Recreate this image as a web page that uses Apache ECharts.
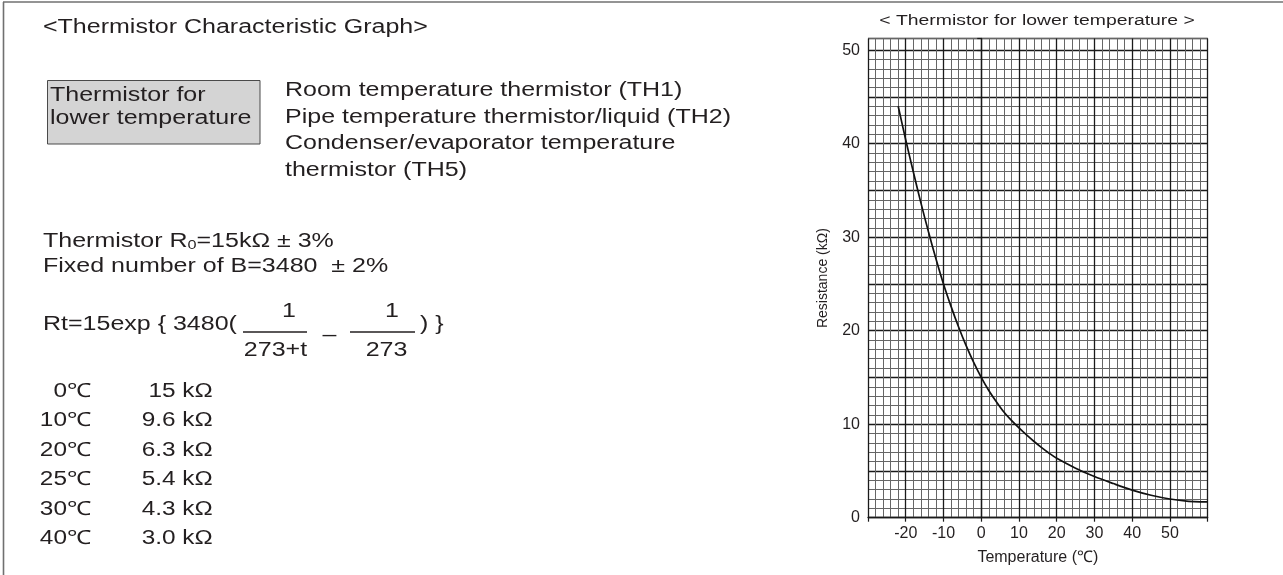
<!DOCTYPE html>
<html><head><meta charset="utf-8">
<script src="https://cdn.jsdelivr.net/npm/echarts@6/dist/echarts.min.js"></script>
<style>html,body{margin:0;padding:0;background:#fff}#c{width:1283px;height:575px}</style>
</head><body><div id="c"></div>
<script>
// ---- data ----
const temps = [-22,-20,-18,-16,-14,-12,-10,-8,-6,-4,-2,0,2,4,6,8,10,12,14,16,18,20,25,30,35,40,45,50,55,58,60];
const resist = [44.0,40.4,37.0,33.7,30.6,27.7,25.0,22.6,20.4,18.4,16.6,15.0,13.6,12.4,11.3,10.4,9.6,8.85,8.15,7.5,6.9,6.35,5.3,4.4,3.65,2.95,2.4,2.0,1.75,1.7,1.7];
const xTickLabels = [-20,-10,0,10,20,30,40,50];
const yTickLabels = [0,10,20,30,40,50];
const tableTemps = ['0℃','10℃','20℃','25℃','30℃','40℃'];
const tableRes = ['15 kΩ','9.6 kΩ','6.3 kΩ','5.4 kΩ','4.3 kΩ','3.0 kΩ'];
const sensorLines = ['Room temperature thermistor (TH1)','Pipe temperature thermistor/liquid (TH2)','Condenser/evaporator temperature','thermistor (TH5)'];
const boxLines = ['Thermistor for','lower temperature'];
const mainTitle = '<Thermistor Characteristic Graph>';
const chartTitle = '< Thermistor for lower temperature >';
const fixedB = 'Fixed number of B=3480  ± 2%';

const FAM = '"Liberation Sans", Arial, Helvetica, sans-serif';
const INK = '#231f20';
const SX = 1.25;
function txt(x, y, text, size, align, extra) {
  return Object.assign({
    type: 'text', x: x, y: y, scaleX: SX, silent: true,
    style: { text: text, font: size + 'px ' + FAM, fill: INK, textAlign: align || 'left', textVerticalAlign: 'middle', align: align || 'left', verticalAlign: 'middle' }
  }, extra || {});
}
function hline(x1, x2, y, w, c) {
  return { type: 'line', silent: true, shape: { x1: x1, y1: y, x2: x2, y2: y }, style: { stroke: c || INK, lineWidth: w || 1.3 } };
}

const YMAX = 51.25;
const MINOR = '#666';
const minorColors = [];
for (let i = 0; i <= 52; i++) minorColors.push((i % 5 === 0 || i === 51) ? 'rgba(0,0,0,0)' : MINOR);

const graphics = [];
// frame
graphics.push({ type: 'line', silent: true, shape: { x1: 3, y1: 2, x2: 1283, y2: 2 }, style: { stroke: '#707070', lineWidth: 1.6 } });
graphics.push({ type: 'line', silent: true, shape: { x1: 3.5, y1: 2, x2: 3.5, y2: 575 }, style: { stroke: '#707070', lineWidth: 1.6 } });
// title
graphics.push(txt(43, 27, mainTitle, 20));
// box
graphics.push({ type: 'rect', silent: true, shape: { x: 47.5, y: 80.5, width: 212.5, height: 63.5 }, style: { fill: '#d4d4d4', stroke: '#4a4a4a', lineWidth: 1 } });
graphics.push(txt(50, 95.5, boxLines[0], 20));
graphics.push(txt(50, 118.5, boxLines[1], 20));
// sensor list
sensorLines.forEach((s, i) => graphics.push(txt(285, 90.5 + i * 26.6, s, 20)));
// parameters
graphics.push({
  type: 'text', x: 43, y: 241.5, scaleX: SX, silent: true,
  style: {
    text: '{n|Thermistor R}{s|0}{n|=15kΩ ± 3%}', fill: INK, textVerticalAlign: 'middle', verticalAlign: 'middle',
    rich: { n: { font: '20px ' + FAM, fill: INK, verticalAlign: 'bottom' }, s: { font: '13px ' + FAM, fill: INK, verticalAlign: 'bottom' } }
  }
});
graphics.push(txt(43, 266.5, fixedB, 20));
// formula
graphics.push(txt(43, 324.5, 'Rt=15exp { 3480(', 20));
graphics.push(txt(289, 311.5, '1', 20, 'center'));
graphics.push(hline(243, 307, 332));
graphics.push(txt(275.5, 350.5, '273+t', 20, 'center'));
graphics.push(txt(329.5, 335, '–', 20, 'center'));
graphics.push(txt(392, 311.5, '1', 20, 'center'));
graphics.push(hline(350, 415, 332));
graphics.push(txt(386.5, 350.5, '273', 20, 'center'));
graphics.push(txt(420, 324.5, ') }', 20));
// table
tableTemps.forEach((t, i) => {
  graphics.push(txt(90.7, 391.5 + i * 29.5, t, 19.5, 'right'));
  graphics.push(txt(212.7, 391.5 + i * 29.5, tableRes[i], 19.5, 'right'));
});
// chart title
graphics.push(txt(1037, 21, chartTitle, 15.5, 'center'));

const option = {
  animation: false,
  backgroundColor: '#ffffff',
  textStyle: { fontFamily: FAM },
  grid: { left: 868, right: 75.3, top: 38.5, bottom: 57.3, containLabel: false },
  xAxis: [{
    type: 'value', min: -30, max: 60, interval: 10,
    name: 'Temperature (℃)', nameLocation: 'middle', nameGap: 32,
    nameTextStyle: { fontSize: 16, color: INK, fontFamily: FAM },
    axisLine: { show: true, lineStyle: { color: '#1a1a1a', width: 1.3 } },
    axisTick: { show: true, length: 4, lineStyle: { color: '#1a1a1a', width: 1.2 } },
    axisLabel: { margin: 8, fontSize: 16, color: INK, fontFamily: FAM, formatter: v => xTickLabels.includes(v) ? String(v) : '' },
    splitLine: { show: true, lineStyle: { color: '#1a1a1a', width: 1.3 } },
    minorTick: { show: false, splitNumber: 5 },
    minorSplitLine: { show: true, lineStyle: { color: MINOR, width: 1 } }
  }],
  yAxis: [{
    type: 'value', min: 0, max: YMAX, interval: 5,
    name: 'Resistance (kΩ)', nameLocation: 'middle', nameGap: 38, nameRotate: 90,
    nameTextStyle: { fontSize: 14, color: INK, fontFamily: FAM },
    axisLine: { show: true, lineStyle: { color: '#1a1a1a', width: 1.3 } },
    axisTick: { show: true, length: 4, lineStyle: { color: '#1a1a1a', width: 1.2 } },
    axisLabel: { margin: 8, fontSize: 16, color: INK, fontFamily: FAM, formatter: v => yTickLabels.includes(v) ? String(v) : '' },
    splitLine: { show: true, lineStyle: { color: '#1a1a1a', width: 1.3 } }
  }, {
    type: 'value', min: 0, max: YMAX, interval: 1, position: 'left',
    axisLine: { show: false }, axisTick: { show: false }, axisLabel: { show: false },
    splitLine: { show: true, lineStyle: { color: minorColors, width: 1 } }
  }],
  series: [{
    type: 'line', xAxisIndex: 0, yAxisIndex: 0, z: 5,
    data: temps.map((t, i) => [t, resist[i]]),
    showSymbol: false, smooth: 0.3,
    lineStyle: { color: '#111', width: 1.7 }
  }],
  graphic: graphics
};
const chart = echarts.init(document.getElementById('c'), null, { renderer: 'canvas' });
chart.setOption(option);
</script></body></html>
